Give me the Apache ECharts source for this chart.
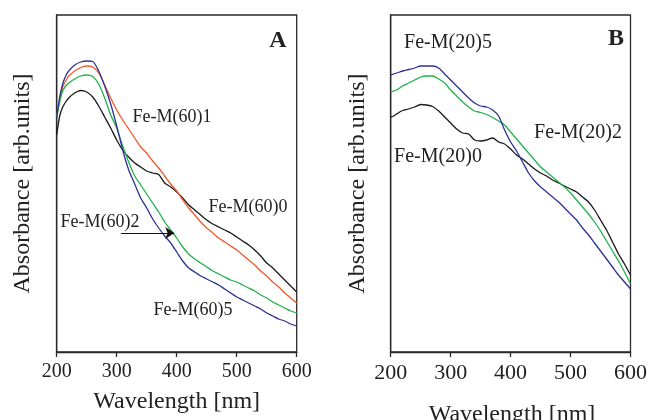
<!DOCTYPE html>
<html><head><meta charset="utf-8">
<script src="https://cdn.jsdelivr.net/npm/echarts@6/dist/echarts.min.js"></script>
<style>html,body{margin:0;padding:0;background:#fff}#c{width:650px;height:420px}</style>
</head><body><div id="c"></div>
<script>
// Wavelength grid (nm) shared by all curves
const wavelengths = [200,205,210,215,220,230,240,250,260,270,280,290,300,310,320,330,340,350,360,370,380,390,400,410,420,430,440,450,460,470,480,490,500,510,520,530,540,550,560,570,580,590,600];
const xTicks = [200,300,400,500,600];

// Panel A (arbitrary absorbance units)
const feM60_0 = [217,236,245,250,254,259,261.5,260,255,246,235,224,212,202,195,189,185,181,179,177.5,169,165,160,154,147,142,137,132,128,125,122,119,115,111,107,102,96,89,84,78,72,66,60];
const feM60_1 = [234,252,265,271,276,281,284.5,286,285,279,267,254,242,232,223,214,205,199,191,184,176,168,161,152,144,137,130,124,119,114,110,106,102,97,92,87,81,76,70,65,59,54,49];
const feM60_2 = [235,250,261,266,269,273,276,277,275.5,268,254,237,224,206,190,176,167,158,149,140,130,122,114,105,98,93,89,85,81,78,75,72,70,67,64,61,57,54,50,47,44,41,39];
const feM60_5 = [234,255,268,276,281,287,290,291,290.5,281,266,248,226,202,182,168,154,144,133,124,116,109,100,91,84,80,76,73,70,67,63,59,55,52,49,46,43,39,36,33,31,28,26];

// Panel B
const feM20_0 = [235,236,238,240,241.5,243,245,247.5,247,245.5,241,235,229,223,219,218,212,211,212,214,210,208,203,197,193,188,183,179,176,172,169,166,163,160,155,150,142,132,122,110,98,88,77];
const feM20_2 = [260,261,262,264,266,269,272,275,276,276,273,269,262,256,250,245,241,239.5,237.5,234.5,231,227,220,213,206,199,192,185,180,175,170,165,159,152,145,138,130,121,111,101,91,80,68];
const feM20_5 = [277,278,279,280,281,282.5,284,286,286,286,284,278,272,266,260,254,249,246,245,242,236,222,210,201,190,179,171,165,160,155,150,144,138,132,124,117,109,101,93,85,77,70,63];

const arrowA = {from: [307, 119], to: [396, 119]};

const C = {black:'#1a1a1a', orange:'#f15a29', green:'#22b14c', blue:'#2e3192'};
const FONT = 'Liberation Serif, Times New Roman, serif';
const pair = v => wavelengths.map((w,i)=>[w, v[i]]);

function xAxis(gi, fs, gap, margin, showName){
  return {type:'value', gridIndex:gi, min:200, max:600, interval:100,
    axisLine:{show:true, lineStyle:{color:'#2a2a2a', width:1.3}},
    axisTick:{show:true, inside:false, length:5, lineStyle:{color:'#2a2a2a', width:1.3}},
    axisLabel:{show:true, fontFamily:FONT, fontSize:fs, color:'#222', margin:margin,
      formatter: v => xTicks.includes(v) ? String(v) : ''},
    splitLine:{show:false},
    name: showName ? 'Wavelength [nm]' : '', nameLocation:'middle', nameGap:gap,
    nameTextStyle:{fontFamily:FONT, fontSize:24, color:'#222'}};
}
function yAxis(gi, gap){
  return {type:'value', gridIndex:gi, min:0, max:337,
    axisLine:{show:true, lineStyle:{color:'#2a2a2a', width:1.3}},
    axisTick:{show:false}, axisLabel:{show:false}, splitLine:{show:false},
    name:'Absorbance [arb.units]', nameLocation:'middle', nameGap:gap, nameRotate:90,
    nameTextStyle:{fontFamily:FONT, fontSize:24, color:'#222'}};
}
function line(name, gi, vals, color, extra){
  return Object.assign({name, type:'line', xAxisIndex:gi, yAxisIndex:gi, data:pair(vals),
    showSymbol:false, symbol:'none', smooth:0.25, lineStyle:{color, width:1.3}, itemStyle:{color},
    animation:false, silent:true}, extra||{});
}
function txt(text, x, y, fs, bold){
  return {type:'text', x, y, style:{text, fontFamily:FONT, fontSize:fs, fontWeight:bold?'bold':'normal',
    fill:'#222', textAlign:'center', textVerticalAlign:'middle'}};
}

const chart = echarts.init(document.getElementById('c'), null, {renderer:'canvas'});
chart.setOption({
  backgroundColor:'#fff',
  animation:false,
  grid:[
    {left:56.7, top:15, width:240, height:337, show:true, borderColor:'#2a2a2a', borderWidth:1.3, backgroundColor:'transparent'},
    {left:390.7, top:15, width:241, height:337, show:true, borderColor:'#2a2a2a', borderWidth:1.3, backgroundColor:'transparent'}
  ],
  xAxis:[xAxis(0, 20, 38, 10, true), xAxis(1, 22, 54, 10, false)],
  yAxis:[yAxis(0, 22), yAxis(1, 21)],
  series:[
    line('Fe-M(60)0', 0, feM60_0, C.black),
    line('Fe-M(60)1', 0, feM60_1, C.orange),
    line('Fe-M(60)2', 0, feM60_2, C.green, {markLine:{silent:true, symbol:['none','arrow'], symbolSize:9,
      label:{show:false}, lineStyle:{color:'#111', width:1, type:'solid'},
      itemStyle:{color:'#111'},
      data:[[{coord:arrowA.from},{coord:arrowA.to}]]}}),
    line('Fe-M(60)5', 0, feM60_5, C.blue),
    line('Fe-M(20)0', 1, feM20_0, C.black),
    line('Fe-M(20)2', 1, feM20_2, C.green),
    line('Fe-M(20)5', 1, feM20_5, C.blue)
  ],
  graphic:[
    txt('A', 278, 41, 24, true),
    txt('B', 616, 39, 24, true),
    txt('Wavelength [nm]', 512, 415, 24),
    txt('Fe-M(60)1', 172, 117, 18),
    txt('Fe-M(60)0', 248, 207, 18),
    txt('Fe-M(60)2', 100, 222, 18),
    txt('Fe-M(60)5', 193, 310, 18),
    txt('Fe-M(20)5', 448, 43, 20),
    txt('Fe-M(20)2', 578, 133, 20),
    txt('Fe-M(20)0', 438, 157, 20)
  ]
});
</script></body></html>
